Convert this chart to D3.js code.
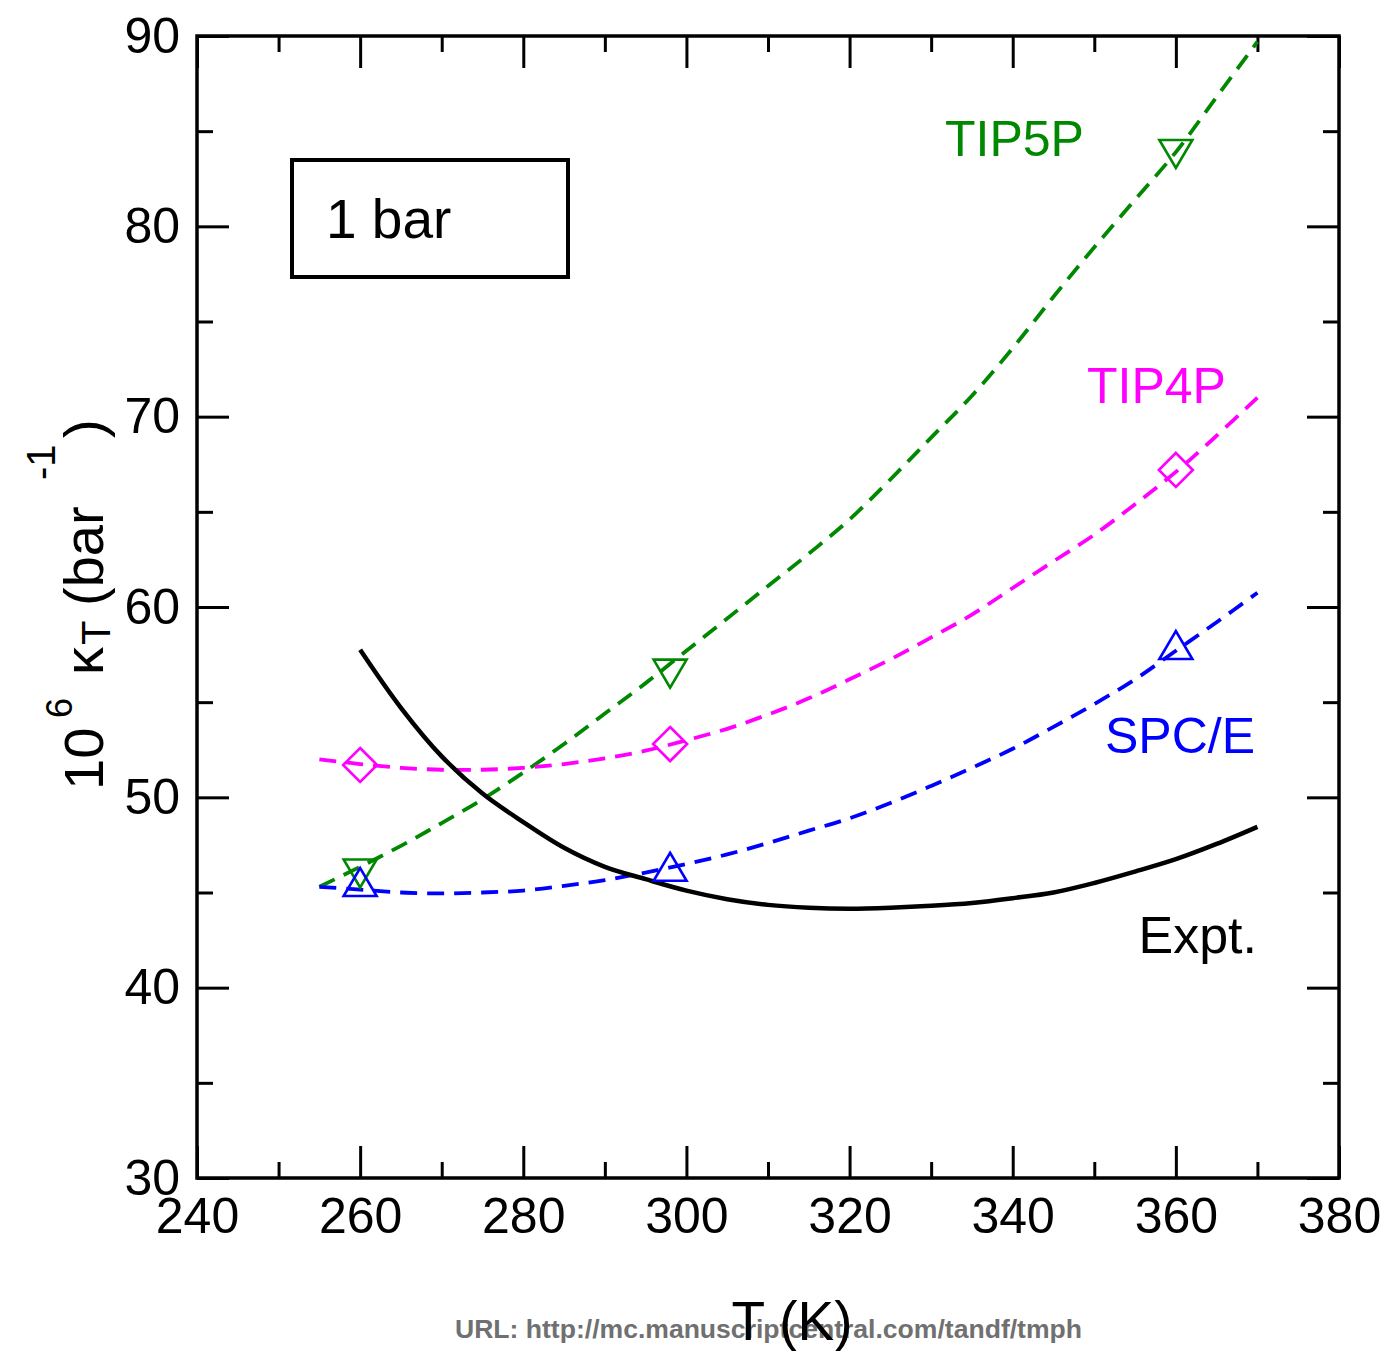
<!DOCTYPE html>
<html>
<head>
<meta charset="utf-8">
<script src="https://cdn.jsdelivr.net/npm/d3@7"></script>
<style>
  html, body { margin: 0; padding: 0; background: #fff; }
  svg { display: block; font-family: "Liberation Sans", Arial, Helvetica, sans-serif; }
</style>
</head>
<body>
<svg id="chart" width="1390" height="1351"></svg>
<script>
// ---- data ----
const temps = [255,260,265,270,275,280,285,290,295,300,305,310,315,320,325,330,335,340,345,350,355,360,365,370];
const tip5p = [45.3,46.35,47.45,48.65,49.9,51.3,52.8,54.4,56.0,57.7,59.4,61.1,62.8,64.6,66.7,68.9,71.1,73.6,76.3,78.9,81.4,83.9,86.8,89.7];
const tip4p = [52.0,51.75,51.55,51.45,51.45,51.55,51.75,52.05,52.45,53.0,53.6,54.35,55.2,56.2,57.25,58.4,59.6,61.0,62.4,63.8,65.4,67.1,69.0,71.0];
const spce  = [45.3,45.15,45.0,44.95,45.0,45.1,45.35,45.65,46.05,46.5,47.0,47.6,48.25,48.9,49.7,50.6,51.55,52.55,53.7,54.9,56.2,57.7,59.2,60.75];
const exptT = [260,265,270,275,280,285,290,295,300,305,310,315,320,325,330,335,340,345,350,355,360,365,370];
const expt  = [57.75,54.7,52.15,50.2,48.7,47.35,46.35,45.7,45.1,44.65,44.35,44.2,44.15,44.2,44.3,44.45,44.7,45.0,45.5,46.1,46.75,47.55,48.45];

const simT = [260, 298, 360];
const tip5pPts = [46.0, 56.5, 83.8];
const tip4pPts = [51.7, 52.8, 67.2];
const spcePts  = [45.55, 46.35, 58.0];

const xTicks = [240,260,280,300,320,340,360,380];
const xMinor = [250,270,290,310,330,350,370];
const yTicks = [30,40,50,60,70,80,90];
const yMinor = [35,45,55,65,75,85];

const seriesLabels = ["TIP5P","TIP4P","SPC/E","Expt."];
const colors = {tip5p:"#008800", tip4p:"#ff00ff", spce:"#0000ff", expt:"#000000"};

// ---- layout ----
const svg = d3.select("#chart");
const L = 197, R = 1339, T = 36, B = 1178;
const x = d3.scaleLinear().domain([240,380]).range([L,R]);
const y = d3.scaleLinear().domain([30,90]).range([B,T]);
const FS = 50;

// URL watermark (drawn first, black axis title on top)
svg.append("text")
  .attr("x", 455).attr("y", 1338)
  .attr("textLength", 627).attr("lengthAdjust","spacingAndGlyphs")
  .attr("font-size", 25).attr("font-weight","bold").attr("fill","#707070")
  .text("URL: http://mc.manuscriptcentral.com/tandf/tmph");

// ---- axes (inward ticks on all sides) ----
function styleAxis(g){
  g.select(".domain").remove();
  g.selectAll(".tick line").attr("stroke","#000").attr("stroke-width",3);
  g.selectAll(".tick text").attr("fill","#000").attr("font-size",FS).attr("font-family","'Liberation Sans', Arial, sans-serif");
}
const MAJ = 32, MIN = 16;
// bottom
svg.append("g").attr("transform",`translate(0,${B})`)
  .call(d3.axisBottom(x).tickValues(xTicks).tickSizeInner(-MAJ).tickSizeOuter(0).tickPadding(19).tickFormat(d3.format("d")))
  .call(styleAxis);
svg.append("g").attr("transform",`translate(0,${B})`)
  .call(d3.axisBottom(x).tickValues(xMinor).tickSizeInner(-MIN).tickSizeOuter(0).tickFormat(""))
  .call(styleAxis);
// top
svg.append("g").attr("transform",`translate(0,${T})`)
  .call(d3.axisTop(x).tickValues(xTicks).tickSizeInner(-MAJ).tickSizeOuter(0).tickFormat(""))
  .call(styleAxis);
svg.append("g").attr("transform",`translate(0,${T})`)
  .call(d3.axisTop(x).tickValues(xMinor).tickSizeInner(-MIN).tickSizeOuter(0).tickFormat(""))
  .call(styleAxis);
// left
svg.append("g").attr("transform",`translate(${L},0)`)
  .call(d3.axisLeft(y).tickValues(yTicks).tickSizeInner(-MAJ).tickSizeOuter(0).tickPadding(17).tickFormat(d3.format("d")))
  .call(styleAxis);
svg.append("g").attr("transform",`translate(${L},0)`)
  .call(d3.axisLeft(y).tickValues(yMinor).tickSizeInner(-MIN).tickSizeOuter(0).tickFormat(""))
  .call(styleAxis);
// right
svg.append("g").attr("transform",`translate(${R},0)`)
  .call(d3.axisRight(y).tickValues(yTicks).tickSizeInner(-MAJ).tickSizeOuter(0).tickFormat(""))
  .call(styleAxis);
svg.append("g").attr("transform",`translate(${R},0)`)
  .call(d3.axisRight(y).tickValues(yMinor).tickSizeInner(-MIN).tickSizeOuter(0).tickFormat(""))
  .call(styleAxis);

// frame
svg.append("rect").attr("x",L).attr("y",T).attr("width",R-L).attr("height",B-T)
  .attr("fill","none").attr("stroke","#000").attr("stroke-width",3.5);

// ---- lines ----
const lineSmooth = d3.line().x(d=>x(d[0])).y(d=>y(d[1])).curve(d3.curveCatmullRom);

function dashed(vals, color){
  svg.append("path").datum(d3.zip(temps, vals))
    .attr("d", lineSmooth).attr("fill","none").attr("stroke",color)
    .attr("stroke-width",3.8).attr("stroke-dasharray","17,10");
}
dashed(tip5p, colors.tip5p);
dashed(tip4p, colors.tip4p);
dashed(spce, colors.spce);

svg.append("path").datum(d3.zip(exptT, expt))
  .attr("d", lineSmooth).attr("fill","none").attr("stroke",colors.expt).attr("stroke-width",4.5);

// ---- markers ----
const S = 16.5;
function triDown(cx,cy){ return `M${cx-S},${cy-14}L${cx+S},${cy-14}L${cx},${cy+14}Z`; }
function triUp(cx,cy){ return `M${cx-S},${cy+14}L${cx+S},${cy+14}L${cx},${cy-14}Z`; }
function diamond(cx,cy){ return `M${cx},${cy-17}L${cx+17},${cy}L${cx},${cy+17}L${cx-17},${cy}Z`; }

function markers(vals, shape, color){
  svg.append("g").selectAll("path").data(d3.zip(simT, vals)).join("path")
    .attr("d", d => shape(x(d[0]), y(d[1])))
    .attr("fill","none").attr("stroke",color).attr("stroke-width",2.6);
}
markers(tip5pPts, triDown, colors.tip5p);
markers(tip4pPts, diamond, colors.tip4p);
markers(spcePts, triUp, colors.spce);

// ---- series labels ----
svg.append("text").attr("x",945).attr("y",156).attr("font-size",FS).attr("fill",colors.tip5p).text(seriesLabels[0]);
svg.append("text").attr("x",1087).attr("y",403).attr("font-size",FS).attr("fill",colors.tip4p).text(seriesLabels[1]);
svg.append("text").attr("x",1255).attr("y",753).attr("text-anchor","end").attr("font-size",FS).attr("fill",colors.spce).text(seriesLabels[2]);
svg.append("text").attr("x",1257).attr("y",953).attr("text-anchor","end").attr("font-size",52).attr("fill",colors.expt).text(seriesLabels[3]);

// ---- "1 bar" box ----
svg.append("rect").attr("x",292).attr("y",160).attr("width",276).attr("height",117)
  .attr("fill","none").attr("stroke","#000").attr("stroke-width",4);
svg.append("text").attr("x",326).attr("y",238).attr("font-size",55).text("1 bar");

// ---- axis titles ----
svg.append("text").attr("x",792).attr("y",1340).attr("text-anchor","middle").attr("font-size",55).attr("fill","#000").text("T (K)");

const yt = svg.append("text").attr("transform","translate(103,790) rotate(-90)")
  .attr("font-size",56).attr("fill","#000");
yt.append("tspan").attr("x",0).attr("y",0).text("10");
yt.append("tspan").attr("x",72).attr("y",-31).attr("font-size",36).text("6");
yt.append("tspan").attr("x",115).attr("y",0).text("κ");
yt.append("tspan").attr("x",145).attr("y",7).attr("font-size",40).text("T");
yt.append("tspan").attr("x",184).attr("y",0).text("(bar");
yt.append("tspan").attr("x",310).attr("y",-48).attr("font-size",40).text("-1");
yt.append("tspan").attr("x",352).attr("y",0).text(")");
</script>
</body>
</html>
